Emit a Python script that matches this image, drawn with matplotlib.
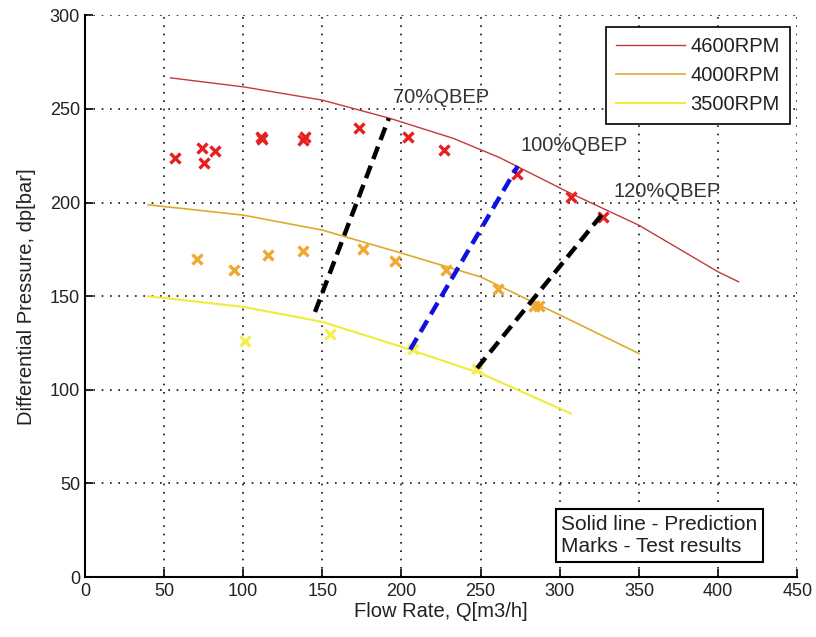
import matplotlib
matplotlib.use("Agg")
import matplotlib.pyplot as plt

plt.rcParams['font.family'] = ['Liberation Sans', 'DejaVu Sans']

# Prediction curves (solid lines)
q_4600 = [54, 100, 150, 193, 233, 262, 305, 332, 350, 400, 413]
p_4600 = [266.6, 261.8, 254.7, 244.9, 234.2, 224.0, 205.7, 195.0, 187.9, 163.0, 157.7]
q_4000 = [40, 100, 150, 200, 250, 300, 350]
p_4000 = [198.8, 193.3, 185.3, 173.0, 160.3, 140.0, 119.4]
q_3500 = [40, 100, 150, 200, 250, 300, 307]
p_3500 = [150.0, 144.3, 136.3, 123.0, 108.8, 90.0, 87.4]

# Test results (marks)
tq_4600 = [57, 74, 75, 82, 111, 112, 139, 138, 173, 204, 227, 273, 307, 327]
tp_4600 = [224, 229, 221, 227.6, 235, 234, 234.8, 233.5, 240, 235, 228, 215.5, 203, 192.4]
tq_4000 = [71, 94, 116, 138, 176, 196, 228, 261, 284, 287]
tp_4000 = [170, 164, 172, 174, 175, 169, 164, 154, 145, 145]
tq_3500 = [101, 155, 207, 248]
tp_3500 = [126, 130, 122, 111]

# QBEP lines
bep_labels = ['70%QBEP', '100%QBEP', '120%QBEP']
bep_q = [[145.4, 192.0], [205.5, 273.5], [247.8, 327.0]]
bep_p = [[141.6, 245.0], [121.5, 219.5], [111.6, 194.0]]
bep_colors = ['black', '#1010e0', 'black']
bep_text_pos = [(194.5, 256.3), (275, 230.6), (334, 205.7)]

x_ticks = [0, 50, 100, 150, 200, 250, 300, 350, 400, 450]
y_ticks = [0, 50, 100, 150, 200, 250, 300]

fig = plt.figure(figsize=(8.16, 6.37), dpi=100)
ax = fig.add_axes([0.104, 0.094, 0.977 - 0.104, 0.976 - 0.094])

c_red_line = '#c23a3a'
c_org_line = '#dcab2e'
c_yel_line = '#f0ec3a'

ax.plot(q_4600, p_4600, color=c_red_line, lw=1.0, label='4600RPM', zorder=3)
ax.plot(q_4000, p_4000, color=c_org_line, lw=1.2, label='4000RPM', zorder=3)
ax.plot(q_3500, p_3500, color=c_yel_line, lw=1.5, label='3500RPM', zorder=3)

ax.plot(tq_4600, tp_4600, 'x', color='#e62020', ms=7, mew=2.4, zorder=4)
ax.plot(tq_4000, tp_4000, 'x', color='#f0a830', ms=7, mew=2.4, zorder=4)
ax.plot(tq_3500, tp_3500, 'x', color='#f5ee50', ms=7, mew=2.4, zorder=4)

for q, p, c in zip(bep_q, bep_p, bep_colors):
    ax.plot(q, p, color=c, lw=3.2, linestyle=(0, (3.0, 1.6)), zorder=5)
for lab, (tx, ty) in zip(bep_labels, bep_text_pos):
    ax.text(tx, ty, lab, fontsize=14.5, color='#333333', ha='left', va='center', zorder=6)

ax.set_xlim(0, 450)
ax.set_ylim(0, 300)
ax.set_xticks(x_ticks)
ax.set_yticks(y_ticks)
ax.tick_params(direction='in', length=6, width=1.2, labelsize=13, colors='black', labelcolor='#222222')
ax.tick_params(axis='x', pad=4)
ax.grid(True, color='#111111', linestyle=(0, (1, 4)), linewidth=1.2)
ax.spines['top'].set_visible(False)
ax.spines['right'].set_visible(False)
for s in ['left', 'bottom']:
    ax.spines[s].set_linewidth(1.5)

ax.set_xlabel('Flow Rate, Q[m3/h]', fontsize=14.5, color='#222222', labelpad=2)
ax.set_ylabel('Differential Pressure, dp[bar]', fontsize=14.5, color='#222222', labelpad=10)

leg = ax.legend(loc='upper right', bbox_to_anchor=(0.99, 0.979), borderaxespad=0, fontsize=14.5,
                handlelength=3.4, handletextpad=0.3, labelspacing=0.5,
                fancybox=False, framealpha=1, edgecolor='black', borderpad=0.5)
leg.get_frame().set_linewidth(1.2)
for t in leg.get_texts():
    t.set_color('#222222')

ax.text(0.669, 0.037, 'Solid line - Prediction\nMarks - Test results', transform=ax.transAxes,
        fontsize=15, color='#222222', ha='left', va='bottom', linespacing=1.25,
        bbox=dict(boxstyle='square,pad=0.25', facecolor='white', edgecolor='black', linewidth=1.5),
        zorder=7)

fig.savefig('out.png', dpi=100)
